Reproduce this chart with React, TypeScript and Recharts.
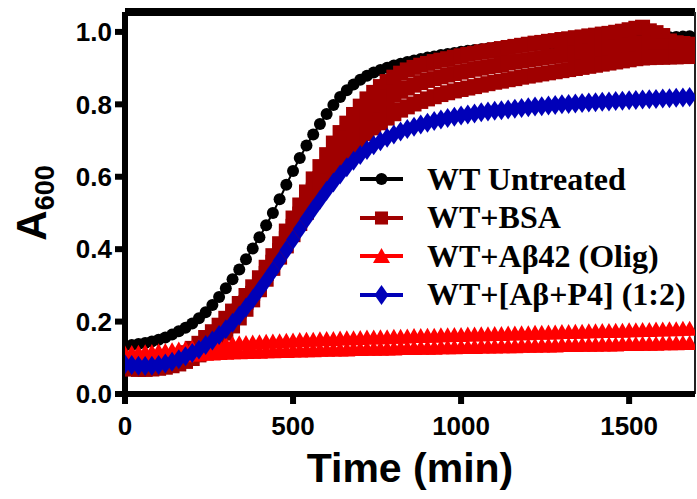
import { LineChart, Line, XAxis, YAxis, Legend, ReferenceLine } from "recharts";

// sampling times (min)
const TIME = [
  0, 20, 40, 60, 80, 100, 120, 140, 160, 180,
  200, 220, 240, 260, 280, 300, 320, 340, 360, 380,
  400, 420, 440, 460, 480, 500, 520, 540, 560, 580,
  600, 620, 640, 660, 680, 700, 720, 740, 760, 780,
  800, 820, 840, 860, 880, 900, 920, 940, 960, 980,
  1000, 1020, 1040, 1060, 1080, 1100, 1120, 1140, 1160, 1180,
  1200, 1220, 1240, 1260, 1280, 1300, 1320, 1340, 1360, 1380,
  1400, 1420, 1440, 1460, 1480, 1500, 1520, 1540, 1560, 1580,
  1600, 1620, 1640, 1660, 1680,
];

const UNTREATED = [
  0.133, 0.135, 0.138, 0.141, 0.145, 0.15, 0.156, 0.164, 0.173, 0.183,
  0.195, 0.209, 0.226, 0.246, 0.268, 0.292, 0.317, 0.344, 0.372, 0.402,
  0.433, 0.466, 0.5, 0.538, 0.578, 0.616, 0.652, 0.686, 0.717, 0.746,
  0.773, 0.798, 0.82, 0.839, 0.855, 0.868, 0.879, 0.888, 0.895, 0.901,
  0.907, 0.912, 0.917, 0.921, 0.925, 0.929, 0.932, 0.936, 0.939, 0.942,
  0.945, 0.948, 0.95, 0.952, 0.954, 0.956, 0.957, 0.959, 0.96, 0.962,
  0.963, 0.964, 0.965, 0.967, 0.968, 0.969, 0.97, 0.971, 0.972, 0.973,
  0.974, 0.975, 0.976, 0.977, 0.978, 0.979, 0.98, 0.981, 0.982, 0.983,
  0.984, 0.985, 0.986, 0.987, 0.988,
];

// BSA replicates
const BSA_1 = [
  0.08, 0.079, 0.078, 0.078, 0.08, 0.083, 0.088, 0.095, 0.104, 0.114,
  0.126, 0.14, 0.156, 0.172, 0.19, 0.209, 0.229, 0.25, 0.272, 0.296,
  0.321, 0.35, 0.382, 0.415, 0.45, 0.486, 0.522, 0.558, 0.594, 0.628,
  0.661, 0.693, 0.722, 0.748, 0.772, 0.795, 0.815, 0.833, 0.849, 0.863,
  0.875, 0.886, 0.895, 0.902, 0.908, 0.913, 0.918, 0.922, 0.926, 0.93,
  0.934, 0.938, 0.941, 0.945, 0.948, 0.951, 0.954, 0.957, 0.96, 0.963,
  0.966, 0.969, 0.971, 0.974, 0.976, 0.979, 0.981, 0.984, 0.986, 0.989,
  0.991, 0.994, 0.996, 0.999, 1.002, 1.006, 1.01, 1.013, 1.003, 0.998,
  0.99, 0.975, 0.97, 0.968, 0.966,
];
const BSA_2 = [
  0.076, 0.075, 0.074, 0.074, 0.075, 0.077, 0.081, 0.087, 0.094, 0.102,
  0.112, 0.124, 0.138, 0.153, 0.17, 0.188, 0.208, 0.23, 0.253, 0.278,
  0.304, 0.333, 0.364, 0.396, 0.429, 0.463, 0.497, 0.53, 0.563, 0.595,
  0.625, 0.654, 0.681, 0.706, 0.728, 0.748, 0.767, 0.784, 0.799, 0.813,
  0.825, 0.836, 0.845, 0.853, 0.86, 0.866, 0.871, 0.876, 0.881, 0.885,
  0.889, 0.893, 0.897, 0.9, 0.904, 0.907, 0.91, 0.914, 0.917, 0.92,
  0.923, 0.926, 0.929, 0.932, 0.934, 0.937, 0.94, 0.943, 0.945, 0.948,
  0.951, 0.954, 0.956, 0.959, 0.961, 0.964, 0.967, 0.97, 0.966, 0.962,
  0.96, 0.957, 0.955, 0.954, 0.953,
];
const BSA_3 = [
  0.07, 0.069, 0.068, 0.068, 0.069, 0.071, 0.074, 0.078, 0.083, 0.09,
  0.098, 0.108, 0.12, 0.134, 0.15, 0.168, 0.188, 0.21, 0.234, 0.26,
  0.288, 0.317, 0.347, 0.378, 0.409, 0.44, 0.471, 0.502, 0.532, 0.561,
  0.589, 0.615, 0.64, 0.662, 0.683, 0.702, 0.719, 0.735, 0.749, 0.762,
  0.774, 0.784, 0.793, 0.801, 0.808, 0.815, 0.821, 0.827, 0.832, 0.837,
  0.841, 0.845, 0.849, 0.853, 0.857, 0.861, 0.864, 0.868, 0.871, 0.875,
  0.878, 0.881, 0.884, 0.887, 0.89, 0.893, 0.896, 0.899, 0.902, 0.905,
  0.908, 0.911, 0.914, 0.917, 0.92, 0.923, 0.926, 0.928, 0.929, 0.93,
  0.93, 0.931, 0.931, 0.932, 0.932,
];

// Abeta42 oligomer replicates
const OLIG_1 = [
  0.112, 0.113, 0.114, 0.115, 0.116, 0.118, 0.119, 0.121, 0.123, 0.125,
  0.127, 0.129, 0.131, 0.133, 0.135, 0.137, 0.138, 0.14, 0.141, 0.142,
  0.143, 0.144, 0.145, 0.146, 0.147, 0.148, 0.149, 0.15, 0.15, 0.151,
  0.152, 0.152, 0.153, 0.154, 0.154, 0.155, 0.156, 0.156, 0.157, 0.157,
  0.158, 0.158, 0.159, 0.16, 0.16, 0.161, 0.161, 0.162, 0.162, 0.163,
  0.163, 0.164, 0.164, 0.165, 0.165, 0.166, 0.166, 0.167, 0.167, 0.168,
  0.168, 0.169, 0.169, 0.17, 0.17, 0.171, 0.171, 0.172, 0.172, 0.173,
  0.173, 0.174, 0.174, 0.175, 0.175, 0.176, 0.176, 0.177, 0.177, 0.178,
  0.178, 0.179, 0.179, 0.18, 0.18,
];
const OLIG_2 = [
  0.092, 0.093, 0.094, 0.095, 0.097, 0.099, 0.101, 0.103, 0.105, 0.107,
  0.109, 0.11, 0.111, 0.112, 0.113, 0.114, 0.115, 0.115, 0.116, 0.117,
  0.117, 0.118, 0.118, 0.119, 0.119, 0.12, 0.12, 0.121, 0.121, 0.122,
  0.122, 0.123, 0.123, 0.123, 0.124, 0.124, 0.125, 0.125, 0.125, 0.126,
  0.126, 0.127, 0.127, 0.127, 0.128, 0.128, 0.128, 0.129, 0.129, 0.129,
  0.13, 0.13, 0.13, 0.131, 0.131, 0.131, 0.132, 0.132, 0.132, 0.133,
  0.133, 0.133, 0.134, 0.134, 0.134, 0.135, 0.135, 0.135, 0.136, 0.136,
  0.136, 0.137, 0.137, 0.137, 0.138, 0.138, 0.138, 0.139, 0.139, 0.139,
  0.14, 0.14, 0.14, 0.141, 0.141,
];

// Abeta + P4 (1:2)
const AB_P4 = [
  0.082, 0.08, 0.078, 0.077, 0.078, 0.08, 0.084, 0.089, 0.096, 0.104,
  0.113, 0.123, 0.135, 0.148, 0.163, 0.179, 0.197, 0.217, 0.239, 0.262,
  0.287, 0.313, 0.34, 0.368, 0.397, 0.426, 0.455, 0.483, 0.51, 0.536,
  0.561, 0.584, 0.606, 0.626, 0.644, 0.66, 0.674, 0.687, 0.698, 0.708,
  0.717, 0.725, 0.732, 0.738, 0.744, 0.749, 0.754, 0.758, 0.762, 0.766,
  0.769, 0.772, 0.775, 0.778, 0.78, 0.782, 0.784, 0.786, 0.788, 0.79,
  0.792, 0.794, 0.795, 0.797, 0.798, 0.8, 0.801, 0.802, 0.804, 0.805,
  0.806, 0.807, 0.808, 0.809, 0.81, 0.811, 0.812, 0.813, 0.814, 0.815,
  0.816, 0.817, 0.818, 0.819, 0.82,
];

const X_TICKS = [0, 500, 1000, 1500];
const Y_TICKS = [0, 0.2, 0.4, 0.6, 0.8, 1.0];

const BLACK = "#000000";
const DARK_RED = "#a00000";
const RED = "#ff0000";
const BLUE = "#0000b8";

const rows = TIME.map((t, i) => ({
  t,
  untreated: UNTREATED[i],
  bsa1: BSA_1[i],
  bsa2: BSA_2[i],
  bsa3: BSA_3[i],
  olig1: OLIG_1[i],
  olig2: OLIG_2[i],
  abp4: AB_P4[i],
}));

type Shape = "circle" | "square" | "triangle" | "diamond";

function Marker({ cx, cy, shape, color, s = 1 }: { cx?: number; cy?: number; shape: Shape; color: string; s?: number }) {
  if (cx == null || cy == null || isNaN(cx) || isNaN(cy)) return null;
  if (shape === "circle") return <circle cx={cx} cy={cy} r={6 * s} fill={color} />;
  if (shape === "square") {
    const h = 7.5 * s;
    return <rect x={cx - h} y={cy - h} width={2 * h} height={2 * h} fill={color} />;
  }
  if (shape === "triangle")
    return <polygon points={`${cx},${cy - 8 * s} ${cx + 8.5 * s},${cy + 7 * s} ${cx - 8.5 * s},${cy + 7 * s}`} fill={color} />;
  return <polygon points={`${cx},${cy - 10 * s} ${cx + 7 * s},${cy} ${cx},${cy + 10 * s} ${cx - 7 * s},${cy}`} fill={color} />;
}

const dotFor = (shape: Shape, color: string, name: string) => (p: any) =>
  <Marker key={`${name}-${p.index}`} cx={p.cx} cy={p.cy} shape={shape} color={color} />;

const SERIES: { key: string; shape: Shape; color: string }[] = [
  { key: "untreated", shape: "circle", color: BLACK },
  { key: "bsa1", shape: "square", color: DARK_RED },
  { key: "bsa2", shape: "square", color: DARK_RED },
  { key: "bsa3", shape: "square", color: DARK_RED },
  { key: "olig1", shape: "triangle", color: RED },
  { key: "olig2", shape: "triangle", color: RED },
  { key: "abp4", shape: "diamond", color: BLUE },
];

const LEGEND_ITEMS: { label: string; shape: Shape; color: string }[] = [
  { label: "WT Untreated", shape: "circle", color: BLACK },
  { label: "WT+BSA", shape: "square", color: DARK_RED },
  { label: "WT+Aβ42 (Olig)", shape: "triangle", color: RED },
  { label: "WT+[Aβ+P4] (1:2)", shape: "diamond", color: BLUE },
];

function LegendBox() {
  return (
    <div style={{ fontFamily: '"Liberation Serif", "Times New Roman", serif', fontWeight: 700, fontSize: 32 }}>
      {LEGEND_ITEMS.map((it) => (
        <div key={it.label} style={{ display: "flex", alignItems: "center", height: 38.5, whiteSpace: "nowrap" }}>
          <svg width={67} height={38} style={{ flex: "none" }}>
            <line x1={0} x2={43} y1={19} y2={19} stroke={it.color} strokeWidth={4} />
            <Marker cx={21.5} cy={19} shape={it.shape} color={it.color} s={it.shape === "square" ? 0.87 : 1} />
          </svg>
          <span style={{ color: "#000" }}>{it.label}</span>
        </div>
      ))}
    </div>
  );
}

const tickFont = { fontFamily: '"Liberation Sans", Arial, sans-serif', fontWeight: 700, fontSize: 26, fill: "#000" };

function YTitle(props: any) {
  const vb = props.viewBox || { x: 0, y: 12, width: 125, height: 382 };
  const cx = vb.x + 46;
  const cy = vb.y + vb.height / 2;
  return (
    <text
      transform={`translate(${cx}, ${cy}) rotate(-90)`}
      textAnchor="middle"
      fontFamily='"Liberation Sans", Arial, sans-serif'
      fontWeight={700}
      fill="#000"
    >
      <tspan fontSize={42}>A</tspan>
      <tspan fontSize={27} dy={8}>600</tspan>
    </text>
  );
}

function XTitle(props: any) {
  const vb = props.viewBox || { x: 125, y: 394, width: 570, height: 105 };
  return (
    <text
      x={vb.x + vb.width / 2}
      y={482}
      textAnchor="middle"
      fontFamily='"Liberation Sans", Arial, sans-serif'
      fontWeight={700}
      fontSize={41}
      fill="#000"
    >
      Time (min)
    </text>
  );
}

export default function App() {
  return (
    <div style={{ position: "absolute", left: 0, top: 0, width: 697, height: 499, background: "#fff" }}>
      <LineChart width={697} height={499} data={rows} margin={{ top: 12, right: 2, left: 0, bottom: 0 }}>
        <XAxis
          dataKey="t"
          type="number"
          domain={[0, 1696]}
          ticks={X_TICKS}
          allowDataOverflow
          height={105}
          axisLine={{ stroke: "#000", strokeWidth: 6 }}
          tickLine={{ stroke: "#000", strokeWidth: 6 }}
          tickSize={10}
          tickMargin={13}
          tick={tickFont}
          label={<XTitle />}
        />
        <YAxis
          type="number"
          domain={[0, 1.055]}
          ticks={Y_TICKS}
          allowDataOverflow
          width={125}
          axisLine={{ stroke: "#000", strokeWidth: 6 }}
          tickLine={{ stroke: "#000", strokeWidth: 6 }}
          tickSize={10}
          tickMargin={3}
          tick={tickFont}
          tickFormatter={(v: number) => v.toFixed(1)}
          label={<YTitle />}
        />
        <ReferenceLine y={1.055} stroke="#000" strokeWidth={8} />
        <ReferenceLine x={1696} stroke="#222" strokeWidth={2} />
        {SERIES.map((s) => (
          <Line
            key={s.key}
            dataKey={s.key}
            type="linear"
            stroke={s.color}
            strokeWidth={2}
            dot={dotFor(s.shape, s.color, s.key)}
            activeDot={false}
            legendType="none"
            isAnimationActive={false}
          />
        ))}
        <Legend
          layout="vertical"
          align="center"
          verticalAlign="middle"
          content={() => <LegendBox />}
          wrapperStyle={{ left: 360, top: 160, width: 337 }}
        />
      </LineChart>
    </div>
  );
}
